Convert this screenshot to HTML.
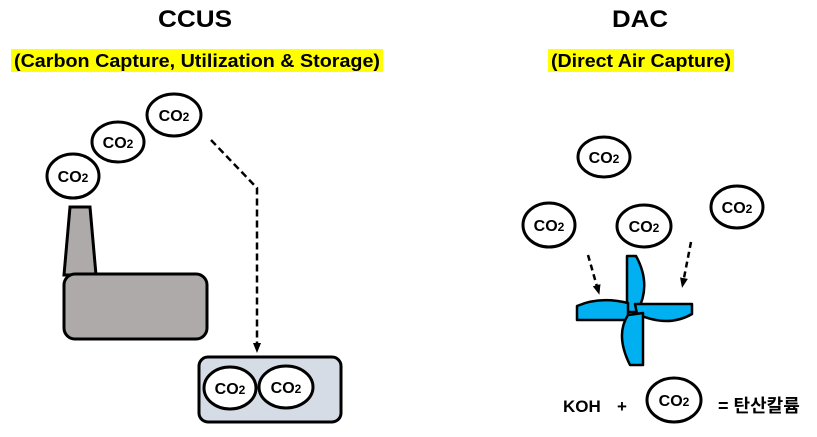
<!DOCTYPE html>
<html><head><meta charset="utf-8"><style>
html,body{margin:0;padding:0;background:#fff;}
svg{display:block;}
text{font-family:"Liberation Sans","Noto Sans CJK KR",sans-serif;font-weight:bold;fill:#000;}
</style></head><body>
<svg width="817" height="437" viewBox="0 0 817 437" xmlns="http://www.w3.org/2000/svg">
<defs>
<marker id="ah" markerWidth="10" markerHeight="10" refX="5" refY="5" orient="auto" markerUnits="userSpaceOnUse">
<path d="M0,1 L10,5 L0,9 Z" fill="#000"/>
</marker>
</defs>
<text x="195" y="27" font-size="24" text-anchor="middle" textLength="74" lengthAdjust="spacingAndGlyphs">CCUS</text>
<text x="640" y="27" font-size="24" text-anchor="middle" textLength="56" lengthAdjust="spacingAndGlyphs">DAC</text>
<rect x="11" y="49" width="372" height="23" fill="#ffff00"/>
<text x="14" y="67" font-size="18" textLength="366" lengthAdjust="spacingAndGlyphs">(Carbon Capture, Utilization &amp; Storage)</text>
<rect x="548" y="49" width="186" height="23" fill="#ffff00"/>
<text x="551" y="67" font-size="18" textLength="180" lengthAdjust="spacingAndGlyphs">(Direct Air Capture)</text>

<g stroke="#000" stroke-width="3" fill="#fff">
<ellipse cx="73" cy="176" rx="26" ry="22"/>
<ellipse cx="118" cy="142" rx="26" ry="20"/>
<ellipse cx="174" cy="115" rx="27" ry="21"/>
</g>
<path d="M70,207 L90,207 L96,275 L64,275 Z" fill="#aeaaaa" stroke="#000" stroke-width="3"/>
<rect x="64" y="274" width="143" height="65" rx="11" fill="#aeaaaa" stroke="#000" stroke-width="3"/>
<path d="M211,140 L257,188 L257,348" fill="none" stroke="#000" stroke-width="2.5" stroke-dasharray="7,4" marker-end="url(#ah)"/>
<rect x="199" y="357" width="142" height="65" rx="9" fill="#d6dce5" stroke="#000" stroke-width="3"/>
<g stroke="#000" stroke-width="3" fill="#fff">
<ellipse cx="230" cy="388" rx="26" ry="21"/>
<ellipse cx="286" cy="387" rx="27" ry="21"/>
<ellipse cx="604" cy="157" rx="26" ry="20"/>
<ellipse cx="549" cy="225" rx="26" ry="22"/>
<ellipse cx="644" cy="226" rx="27" ry="21"/>
<ellipse cx="737" cy="207" rx="26" ry="21"/>
<ellipse cx="674" cy="400" rx="27" ry="22"/>
</g>
<g font-size="16">
<text x="73" y="182" text-anchor="middle">CO<tspan font-size="12">2</tspan></text>
<text x="118" y="148" text-anchor="middle">CO<tspan font-size="12">2</tspan></text>
<text x="174" y="121" text-anchor="middle">CO<tspan font-size="12">2</tspan></text>
<text x="230" y="394" text-anchor="middle">CO<tspan font-size="12">2</tspan></text>
<text x="286" y="393" text-anchor="middle">CO<tspan font-size="12">2</tspan></text>
<text x="604" y="163" text-anchor="middle">CO<tspan font-size="12">2</tspan></text>
<text x="549" y="231" text-anchor="middle">CO<tspan font-size="12">2</tspan></text>
<text x="644" y="232" text-anchor="middle">CO<tspan font-size="12">2</tspan></text>
<text x="737" y="213" text-anchor="middle">CO<tspan font-size="12">2</tspan></text>
<text x="674" y="406" text-anchor="middle">CO<tspan font-size="12">2</tspan></text>
</g>
<path d="M588,255 L598,290" fill="none" stroke="#000" stroke-width="2.5" stroke-dasharray="6,4" marker-end="url(#ah)"/>
<path d="M691,242 L683,283" fill="none" stroke="#000" stroke-width="2.5" stroke-dasharray="6,4" marker-end="url(#ah)"/>
<g fill="#00b0f0" stroke="#000" stroke-width="2.5" stroke-linejoin="round">
<path d="M627,256 L636,256 Q652,285 637,312 L627,312 Z"/>
<path d="M577,320 L577,306 Q600,296 628,303 L628,320 Z"/>
<path d="M635,304 L692,304 L692,314 Q668,328 637,314 Z"/>
<path d="M643,313 L643,365 L630,365 Q615,335 628,315 Z"/>
</g>
<text x="563" y="412" font-size="17">KOH</text>
<text x="617" y="412" font-size="17">+</text>
<text x="718" y="412" font-size="18">= 탄산칼륨</text>
</svg>
</body></html>
